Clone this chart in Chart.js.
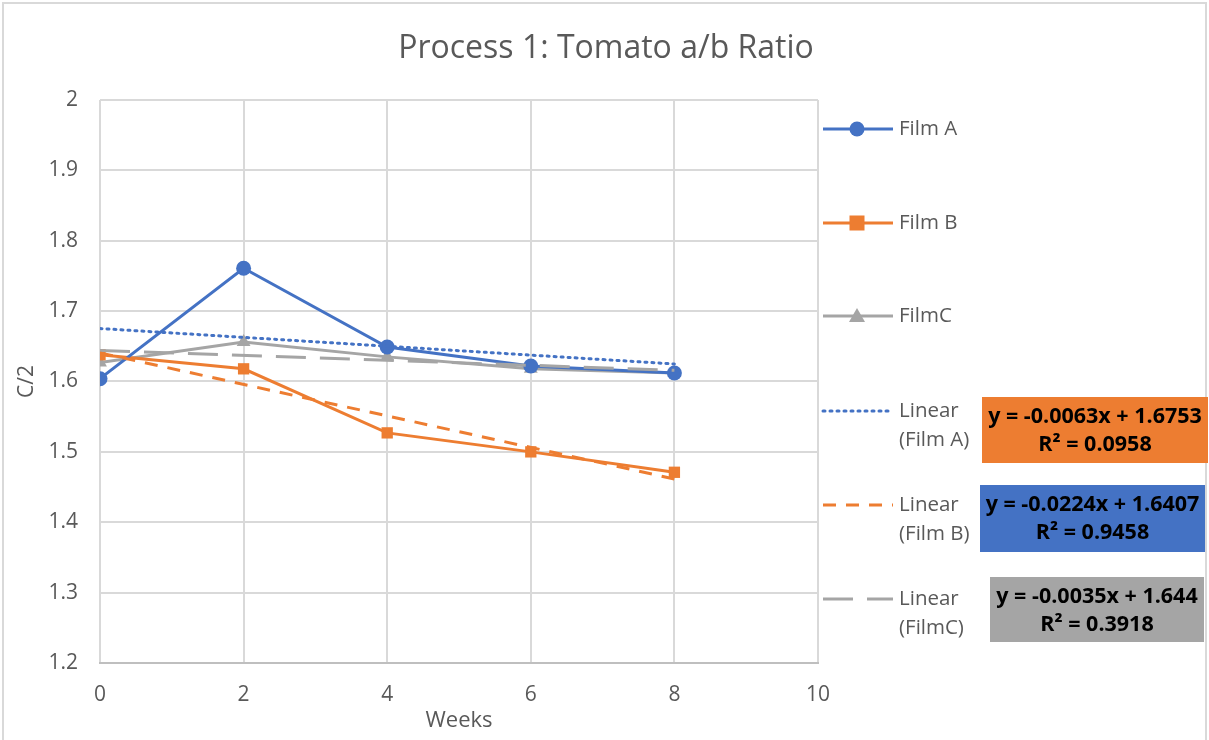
<!DOCTYPE html>
<html>
<head>
<meta charset="utf-8">
<script src="https://cdn.jsdelivr.net/npm/chart.js@4.4.1/dist/chart.umd.min.js"></script>
<style>
  html, body { margin: 0; padding: 0; background: #ffffff; }
  #wrap { position: relative; width: 1209px; height: 740px; }
</style>
</head>
<body>
<div id="wrap"><canvas id="c" width="1209" height="740"></canvas></div>
<script>
// Sampling weeks and measured a/b ratio per film
const weeks = [0, 2, 4, 6, 8];
const filmA = [1.604, 1.761, 1.649, 1.622, 1.612];
const filmB = [1.638, 1.618, 1.527, 1.500, 1.471];
const filmC = [1.627, 1.656, 1.635, 1.618, 1.612];

// Linear fits (slope, intercept, R²) as reported for each film
const fitSlope = [-0.0063, -0.0224, -0.0035];
const fitIntercept = [1.6753, 1.6407, 1.644];
const fitR2 = ['0.0958', '0.9458', '0.3918'];
const fitText = ['y = -0.0063x + 1.6753', 'y = -0.0224x + 1.6407', 'y = -0.0035x + 1.644'];

const yTicks = [1.2, 1.3, 1.4, 1.5, 1.6, 1.7, 1.8, 1.9, 2];
const xTicks = [0, 2, 4, 6, 8, 10];

const BLUE = '#4472C4', ORANGE = '#ED7D31', GRAY = '#A5A5A5';
const TXT = '#595959';
const FONT = '"Open Sans", "Noto Sans", sans-serif';

const pts = (vals) => weeks.map((w, i) => ({ x: w, y: vals[i] }));
const fitPts = (k) => [weeks[0], weeks[weeks.length - 1]].map(w => ({ x: w, y: fitSlope[k] * w + fitIntercept[k] }));

const legendItems = [
  { label: ['Film A'], color: BLUE, dash: [], marker: 'circle', y: 129 },
  { label: ['Film B'], color: ORANGE, dash: [], marker: 'rect', y: 223 },
  { label: ['FilmC'], color: GRAY, dash: [], marker: 'triangle', y: 316 },
  { label: ['Linear', '(Film A)'], color: BLUE, dash: [2, 5], cap: 'round', y: 411 },
  { label: ['Linear', '(Film B)'], color: ORANGE, dash: [13, 10], y: 505 },
  { label: ['Linear', '(FilmC)'], color: GRAY, dash: [30, 14], y: 599 }
];

// Equation boxes next to the trendline legend entries
const eqBoxes = [
  { fill: ORANGE, x: 982, y: 397, w: 226, h: 66 },
  { fill: BLUE, x: 980, y: 485, w: 225, h: 67 },
  { fill: GRAY, x: 990, y: 577, w: 214, h: 65 }
];

const sidePanel = {
  id: 'sidePanel',
  afterDraw(chart) {
    const ctx = chart.ctx;
    ctx.save();
    // outer frame
    ctx.strokeStyle = '#d9d9d9';
    ctx.lineWidth = 2;
    ctx.strokeRect(3, 3, 1203, 745);

    // title
    ctx.fillStyle = TXT;
    ctx.font = '32px ' + FONT;
    ctx.textAlign = 'center';
    ctx.textBaseline = 'middle';
    ctx.fillText('Process 1: Tomato a/b Ratio', 606, 49);

    // legend
    legendItems.forEach(it => {
      ctx.strokeStyle = it.color;
      ctx.lineWidth = 3;
      ctx.setLineDash(it.dash);
      ctx.lineCap = it.cap || 'butt';
      ctx.beginPath();
      ctx.moveTo(823, it.y);
      ctx.lineTo(893, it.y);
      ctx.stroke();
      ctx.setLineDash([]);
      ctx.lineCap = 'butt';
      ctx.fillStyle = it.color;
      const mx = 857;
      if (it.marker === 'circle') {
        ctx.beginPath(); ctx.arc(mx, it.y, 7.5, 0, Math.PI * 2); ctx.fill();
      } else if (it.marker === 'rect') {
        ctx.fillRect(mx - 7.5, it.y - 7.5, 15, 15);
      } else if (it.marker === 'triangle') {
        ctx.beginPath();
        ctx.moveTo(mx, it.y - 8); ctx.lineTo(mx + 8, it.y + 6); ctx.lineTo(mx - 8, it.y + 6);
        ctx.closePath(); ctx.fill();
      }
      ctx.fillStyle = TXT;
      ctx.font = '20.5px ' + FONT;
      ctx.textAlign = 'left';
      ctx.textBaseline = 'middle';
      it.label.forEach((t, j) => ctx.fillText(t, 899, it.y + j * 29));
    });

    // equation boxes
    eqBoxes.forEach((b, k) => {
      ctx.fillStyle = b.fill;
      ctx.fillRect(b.x, b.y, b.w, b.h);
      ctx.fillStyle = '#000000';
      ctx.font = 'bold 21.5px ' + FONT;
      ctx.textAlign = 'center';
      ctx.textBaseline = 'middle';
      const cx = b.x + b.w / 2;
      ctx.fillText(fitText[k], cx, b.y + 20);
      ctx.fillText('R\u00B2 = ' + fitR2[k], cx, b.y + 48);
    });
    ctx.restore();
  }
};

const seriesCommon = { borderWidth: 3, pointBorderWidth: 0, tension: 0, order: 1 };
const trendCommon = { borderWidth: 3, pointRadius: 0, pointHoverRadius: 0, tension: 0, order: 0, fill: false };

new Chart(document.getElementById('c'), {
  type: 'line',
  data: {
    datasets: [
      { ...seriesCommon, label: 'Film A', data: pts(filmA), borderColor: BLUE, backgroundColor: BLUE, pointStyle: 'circle', pointRadius: 7.5 },
      { ...seriesCommon, label: 'Film B', data: pts(filmB), borderColor: ORANGE, backgroundColor: ORANGE, pointStyle: 'rect', pointRadius: 8 },
      { ...seriesCommon, label: 'FilmC', data: pts(filmC), borderColor: GRAY, backgroundColor: GRAY, pointStyle: 'triangle', pointRadius: 8 },
      { ...trendCommon, label: 'Linear (Film A)', data: fitPts(0), borderColor: BLUE, borderDash: [2, 5], borderCapStyle: 'round' },
      { ...trendCommon, label: 'Linear (Film B)', data: fitPts(1), borderColor: ORANGE, borderDash: [13, 10] },
      { ...trendCommon, label: 'Linear (FilmC)', data: fitPts(2), borderColor: GRAY, borderDash: [30, 14] }
    ]
  },
  options: {
    responsive: false,
    animation: false,
    events: [],
    layout: { padding: { left: 10, right: 391, top: 100, bottom: 6 } },
    plugins: { legend: { display: false }, title: { display: false }, tooltip: { enabled: false } },
    scales: {
      x: {
        type: 'linear', min: 0, max: 10,
        afterBuildTicks: (s) => { s.ticks = xTicks.map(v => ({ value: v })); },
        afterFit: (s) => { s.height = 71; },
        grid: { color: '#d9d9d9', lineWidth: 2, drawTicks: false },
        border: { color: '#bfbfbf', width: 2 },
        ticks: { color: TXT, font: { family: FONT, size: 21 }, padding: 19, maxRotation: 0 },
        title: { display: true, text: 'Weeks', color: TXT, font: { family: FONT, size: 22 }, padding: { top: 0, bottom: 0 } }
      },
      y: {
        type: 'linear', min: 1.2, max: 2,
        afterBuildTicks: (s) => { s.ticks = yTicks.map(v => ({ value: v })); },
        afterFit: (s) => { s.width = 90; },
        grid: { color: '#d9d9d9', lineWidth: 2, drawTicks: false },
        border: { display: false },
        ticks: { color: TXT, font: { family: FONT, size: 21 }, padding: 22, callback: (v) => String(parseFloat(v.toFixed(1))) },
        title: { display: true, text: 'C/2', color: TXT, font: { family: FONT, size: 21 }, padding: { top: 4, bottom: 0 } }
      }
    }
  },
  plugins: [sidePanel]
});
</script>
</body>
</html>
